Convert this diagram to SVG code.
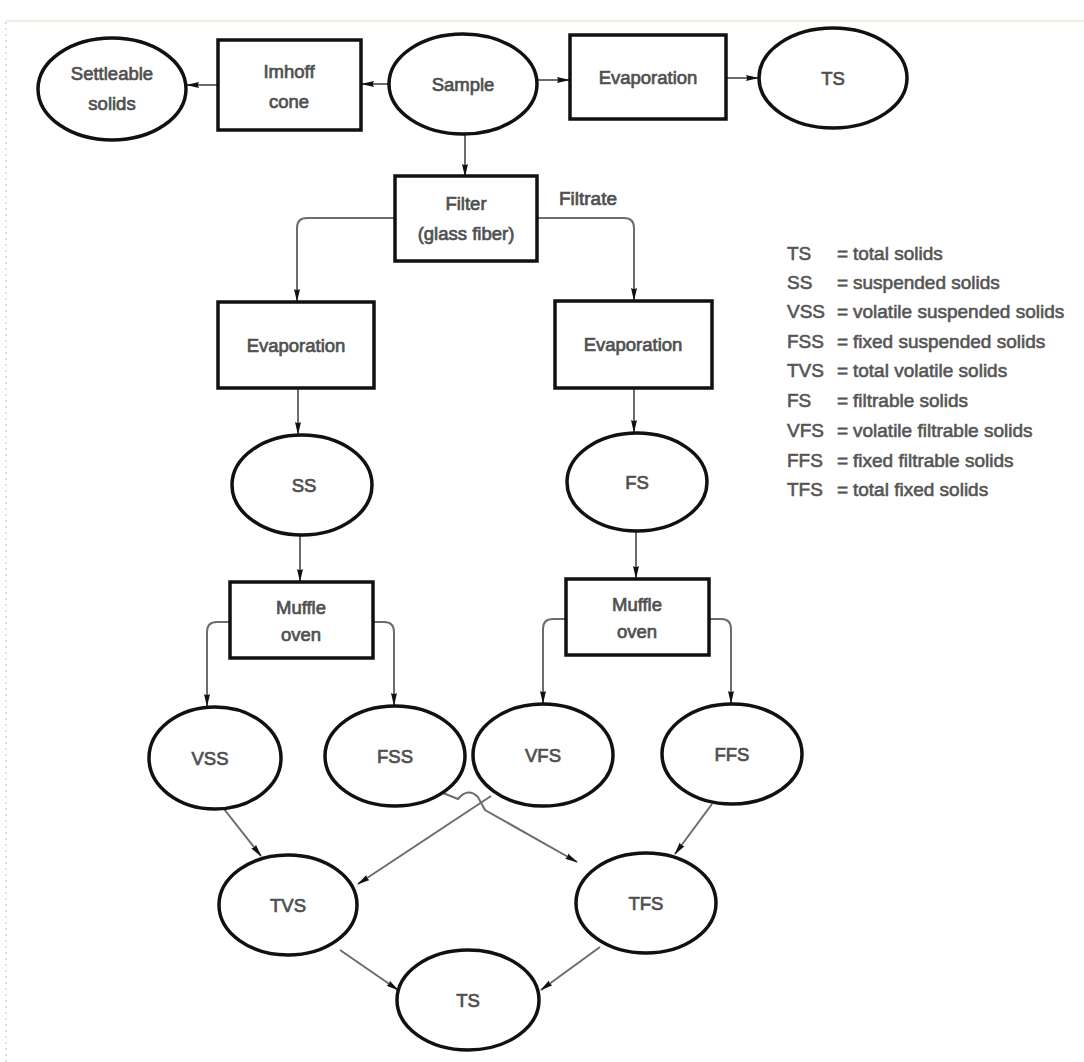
<svg xmlns="http://www.w3.org/2000/svg" width="1084" height="1062" viewBox="0 0 1084 1062">
  <style>
    .node ellipse, .node rect { fill: #ffffff; stroke: #111111; stroke-width: 3.5; }
    .node text { font-family: "Liberation Sans", Arial, sans-serif; font-size: 18.5px; fill: #505050; stroke: #505050; stroke-width: 0.7; text-anchor: middle; }
    .edge { fill: none; stroke: #6c6c6c; stroke-width: 2; }
    .lbl { font-family: "Liberation Sans", Arial, sans-serif; font-size: 19px; fill: #505050; stroke: #505050; stroke-width: 0.7; }
    .legend text { font-family: "Liberation Sans", Arial, sans-serif; font-size: 19px; fill: #555555; stroke: #555555; stroke-width: 0.6; }
  </style>
  <defs>
    <marker id="arrow" viewBox="0 0 13 8" refX="12" refY="4" markerWidth="13" markerHeight="8" markerUnits="userSpaceOnUse" orient="auto">
      <path d="M0,1 L13,4 L0,7 Q2,4 0,1 z" fill="#111111"/>
    </marker>
  </defs>

  <rect width="1084" height="1062" fill="#ffffff"/>
  <!-- page edges -->
  <line x1="6" y1="21" x2="1084" y2="21" stroke="#ece8d6" stroke-width="1.5"/>
  <line x1="6" y1="22" x2="6" y2="1062" stroke="#c8c8c8" stroke-width="1.2" stroke-dasharray="2 4"/>

  <!-- connectors -->
  <g id="connectors" marker-end="url(#arrow)">
    <line class="edge" x1="389" y1="84" x2="362" y2="84"/>
    <line class="edge" x1="218" y1="85" x2="187" y2="85"/>
    <line class="edge" x1="537" y1="80" x2="569" y2="80"/>
    <line class="edge" x1="726" y1="78" x2="758" y2="78"/>
    <line class="edge" x1="465" y1="134" x2="465" y2="176"/>
    <path class="edge" d="M395,218 H307 Q297,218 297,228 V301"/>
    <path class="edge" d="M537,218 H624 Q634,218 634,228 V300"/>
    <line class="edge" x1="298" y1="388" x2="298" y2="434"/>
    <line class="edge" x1="634" y1="388" x2="634" y2="432"/>
    <line class="edge" x1="300" y1="535" x2="300" y2="581"/>
    <line class="edge" x1="636" y1="531" x2="636" y2="578"/>
    <path class="edge" d="M230,622 H217 Q207,622 207,632 V706"/>
    <path class="edge" d="M373,622 H384 Q394,622 394,632 V705"/>
    <path class="edge" d="M566,619 H553 Q543,619 543,629 V703"/>
    <path class="edge" d="M709,619 H721 Q731,619 731,629 V703"/>
    <line class="edge" x1="224" y1="809" x2="261" y2="856"/>
    <line class="edge" x1="491" y1="796" x2="358" y2="884"/>
    <path class="edge" d="M443,793 L458,799 Q468,787 478,797 L485,810 L577,862"/>
    <line class="edge" x1="712" y1="804" x2="675" y2="854"/>
    <line class="edge" x1="340" y1="950" x2="398" y2="990"/>
    <line class="edge" x1="600" y1="947" x2="541" y2="990"/>
  </g>
  <text class="lbl" x="588" y="205" text-anchor="middle">Filtrate</text>

  <!-- top row -->
  <g id="settleable" class="node">
    <ellipse cx="112" cy="89" rx="74" ry="51"/>
    <text x="112" y="80">Settleable</text>
    <text x="112" y="110">solids</text>
  </g>
  <g id="imhoff" class="node">
    <rect x="218" y="40" width="143" height="90"/>
    <text x="289" y="78">Imhoff</text>
    <text x="289" y="108">cone</text>
  </g>
  <g id="sample" class="node">
    <ellipse cx="463" cy="84" rx="74" ry="50"/>
    <text x="463" y="91">Sample</text>
  </g>
  <g id="evap-top" class="node">
    <rect x="570" y="35" width="156" height="84"/>
    <text x="648" y="84">Evaporation</text>
  </g>
  <g id="ts-top" class="node">
    <ellipse cx="833" cy="78" rx="74" ry="50"/>
    <text x="833" y="85">TS</text>
  </g>

  <!-- filtration -->
  <g id="filter" class="node">
    <rect x="395" y="176" width="142" height="85"/>
    <text x="466" y="210">Filter</text>
    <text x="466" y="240">(glass fiber)</text>
  </g>
  <g id="evap-left" class="node">
    <rect x="218" y="302" width="156" height="86"/>
    <text x="296" y="352">Evaporation</text>
  </g>
  <g id="evap-right" class="node">
    <rect x="555" y="301" width="157" height="87"/>
    <text x="633" y="351">Evaporation</text>
  </g>
  <g id="ss" class="node">
    <ellipse cx="302" cy="485" rx="70" ry="50"/>
    <text x="304" y="492">SS</text>
  </g>
  <g id="fs" class="node">
    <ellipse cx="637" cy="482" rx="70" ry="49"/>
    <text x="637" y="489">FS</text>
  </g>
  <g id="muffle-left" class="node">
    <rect x="230" y="582" width="143" height="76"/>
    <text x="301" y="614">Muffle</text>
    <text x="301" y="641">oven</text>
  </g>
  <g id="muffle-right" class="node">
    <rect x="566" y="579" width="143" height="76"/>
    <text x="637" y="611">Muffle</text>
    <text x="637" y="638">oven</text>
  </g>

  <!-- ignition products -->
  <g id="vss" class="node">
    <ellipse cx="215" cy="758" rx="66" ry="51"/>
    <text x="210" y="765">VSS</text>
  </g>
  <g id="fss" class="node">
    <ellipse cx="395" cy="756" rx="70" ry="50"/>
    <text x="395" y="763">FSS</text>
  </g>
  <g id="vfs" class="node">
    <ellipse cx="543" cy="755" rx="70" ry="51"/>
    <text x="543" y="762">VFS</text>
  </g>
  <g id="ffs" class="node">
    <ellipse cx="732" cy="754" rx="70" ry="50"/>
    <text x="732" y="761">FFS</text>
  </g>
  <g id="tvs" class="node">
    <ellipse cx="288" cy="905" rx="69" ry="50"/>
    <text x="288" y="912">TVS</text>
  </g>
  <g id="tfs" class="node">
    <ellipse cx="646" cy="903" rx="70" ry="50"/>
    <text x="646" y="910">TFS</text>
  </g>
  <g id="ts-bottom" class="node">
    <ellipse cx="468" cy="1000" rx="71" ry="50"/>
    <text x="468" y="1007">TS</text>
  </g>

  <!-- abbreviations -->
  <g id="legend" class="legend">
    <text x="787" y="260">TS</text><text x="837" y="260">=</text><text x="853" y="260">total solids</text>
    <text x="787" y="289">SS</text><text x="837" y="289">=</text><text x="853" y="289">suspended solids</text>
    <text x="787" y="318">VSS</text><text x="837" y="318">=</text><text x="853" y="318">volatile suspended solids</text>
    <text x="787" y="348">FSS</text><text x="837" y="348">=</text><text x="853" y="348">fixed suspended solids</text>
    <text x="787" y="377">TVS</text><text x="837" y="377">=</text><text x="853" y="377">total volatile solids</text>
    <text x="787" y="407">FS</text><text x="837" y="407">=</text><text x="853" y="407">filtrable solids</text>
    <text x="787" y="437">VFS</text><text x="837" y="437">=</text><text x="853" y="437">volatile filtrable solids</text>
    <text x="787" y="467">FFS</text><text x="837" y="467">=</text><text x="853" y="467">fixed filtrable solids</text>
    <text x="787" y="496">TFS</text><text x="837" y="496">=</text><text x="853" y="496">total fixed solids</text>
  </g>
</svg>
